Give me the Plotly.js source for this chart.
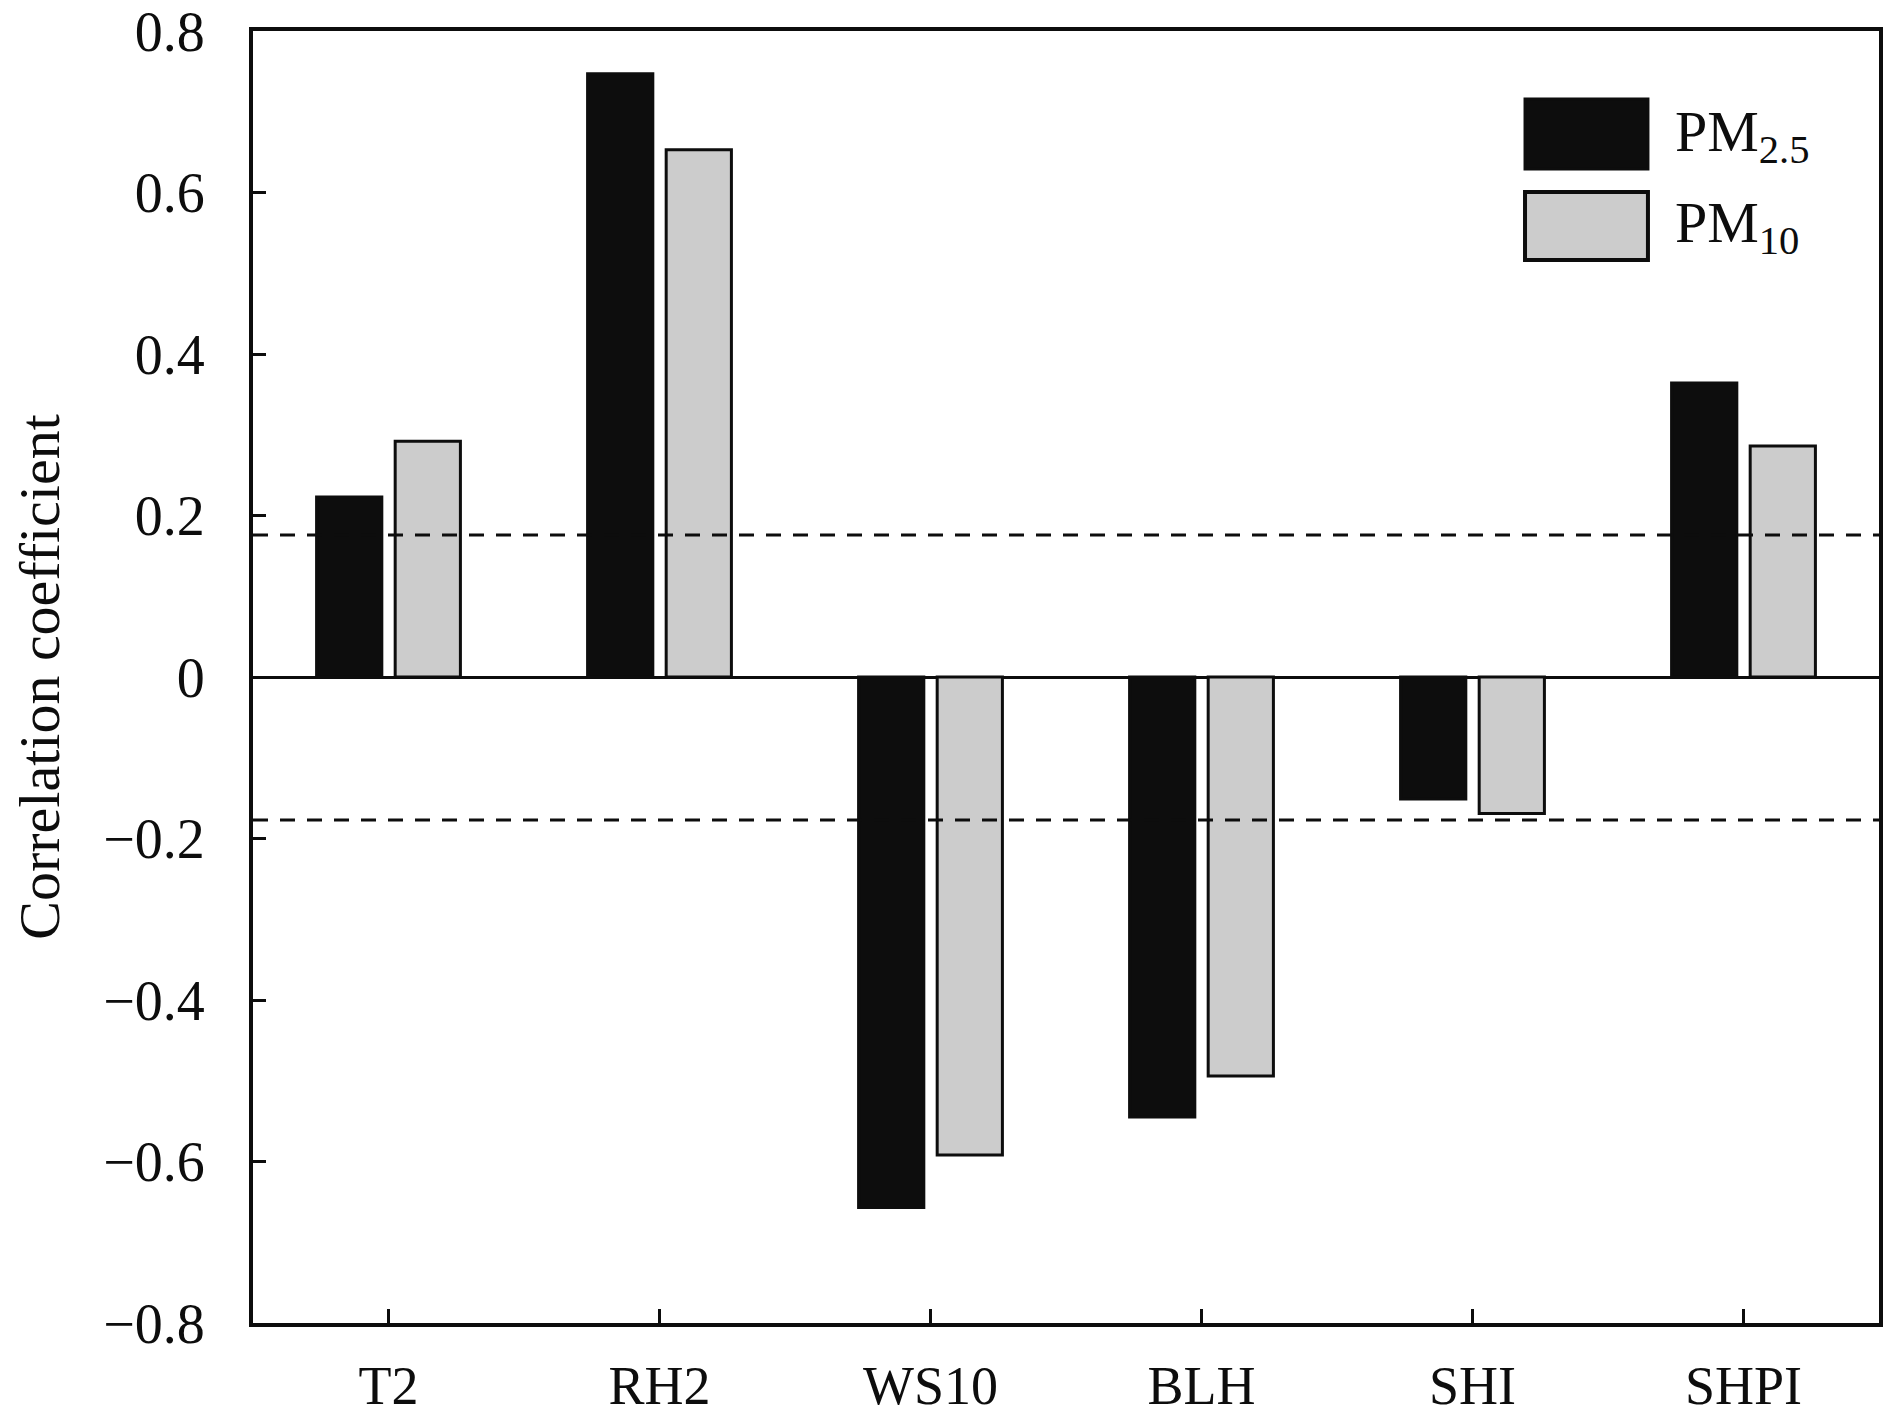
<!DOCTYPE html>
<html>
<head>
<meta charset="utf-8">
<script src="https://cdn.plot.ly/plotly-3.0.1.min.js"></script>
<style>html,body{margin:0;padding:0;background:#fff;}#chart{width:1890px;height:1415px;}</style>
</head>
<body>
<div id="chart"></div>
<script>
const categories = ["T2", "RH2", "WS10", "BLH", "SHI", "SHPI"];
const pm25 = [0.223, 0.747, -0.657, -0.545, -0.151, 0.364];
const pm10 = [0.292, 0.653, -0.592, -0.494, -0.169, 0.286];
const seriesNames = ["PM<sub>2.5</sub>", "PM<sub>10</sub>"];
const significance = [0.176, -0.177];
const yTickVals = [0.8, 0.6, 0.4, 0.2, 0, -0.2, -0.4, -0.6, -0.8];
const yTickText = ["0.8", "0.6", "0.4", "0.2", "0", "\u22120.2", "\u22120.4", "\u22120.6", "\u22120.8"];

const FONT = "Liberation Serif, Times New Roman, serif";
const DARK = "#0d0d0d";
const GREY = "#cccccc";

const traces = [
  {type: "bar", name: seriesNames[0], x: categories, y: pm25,
   marker: {color: DARK, line: {color: DARK, width: 3}}, showlegend: false},
  {type: "bar", name: seriesNames[1], x: categories, y: pm10,
   marker: {color: GREY, line: {color: DARK, width: 3}}, showlegend: false}
];

const shapes = significance.map(v => ({
  type: "line", xref: "paper", x0: 0, x1: 1, yref: "y", y0: v, y1: v,
  line: {color: DARK, width: 3, dash: "15px,12px"}, layer: "above"
}));
// legend swatches
shapes.push({type: "rect", xref: "paper", yref: "paper", x0: 0.7823, x1: 0.8579, y0: 0.8932, y1: 0.9474,
  fillcolor: DARK, line: {color: DARK, width: 3}});
shapes.push({type: "rect", xref: "paper", yref: "paper", x0: 0.7823, x1: 0.8579, y0: 0.8228, y1: 0.8754,
  fillcolor: GREY, line: {color: DARK, width: 4}});

const annotations = [
  {xref: "paper", yref: "paper", x: 0.8735, y: 0.9195, xanchor: "left", yanchor: "middle",
   text: seriesNames[0], showarrow: false, font: {family: FONT, size: 58, color: DARK}},
  {xref: "paper", yref: "paper", x: 0.8735, y: 0.849, xanchor: "left", yanchor: "middle",
   text: seriesNames[1], showarrow: false, font: {family: FONT, size: 58, color: DARK}}
];

const layout = {
  width: 1890, height: 1415,
  margin: {l: 253, r: 11, t: 31, b: 92},
  paper_bgcolor: "#ffffff", plot_bgcolor: "#ffffff",
  font: {family: FONT, size: 54, color: DARK},
  barmode: "group", bargap: 0.42, bargroupgap: 0.17,
  xaxis: {
    type: "category", range: [-0.5, 5.5],
    showline: true, linecolor: DARK, linewidth: 4, mirror: true,
    ticks: "inside", ticklen: 14, tickwidth: 3, tickcolor: DARK,
    ticklabelstandoff: 12,
    tickfont: {family: FONT, size: 54, color: DARK},
    showgrid: false, zeroline: false, automargin: false
  },
  yaxis: {
    range: [-0.8, 0.8],
    tickvals: yTickVals, ticktext: yTickText,
    showline: true, linecolor: DARK, linewidth: 4, mirror: true,
    ticks: "inside", ticklen: 13, tickwidth: 3, tickcolor: DARK,
    ticklabelstandoff: 33,
    tickfont: {family: FONT, size: 56, color: DARK},
    showgrid: false, zeroline: true, zerolinecolor: DARK, zerolinewidth: 3,
    automargin: false,
    title: {text: "Correlation coefficient", font: {family: FONT, size: 58, color: DARK}, standoff: 26}
  },
  shapes: shapes,
  annotations: annotations
};

Plotly.newPlot("chart", traces, layout, {displayModeBar: false, staticPlot: true});
</script>
</body>
</html>
